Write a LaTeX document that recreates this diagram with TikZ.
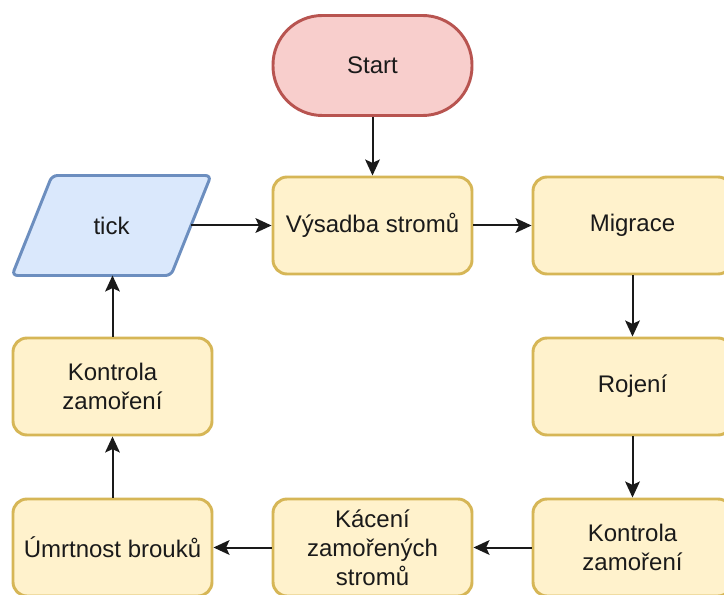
\documentclass[tikz,border=0pt]{standalone}
\usepackage{fontspec}
\setmainfont{Liberation Sans}
\usetikzlibrary{arrows.meta}
\definecolor{yfill}{HTML}{FFF2CC}
\definecolor{ydraw}{HTML}{D6B656}
\definecolor{rfill}{HTML}{F8CECC}
\definecolor{rdraw}{HTML}{B85450}
\definecolor{bfill}{HTML}{DAE8FC}
\definecolor{bdraw}{HTML}{6C8EBF}
\definecolor{txt}{HTML}{1A1A1A}
\tikzset{
  x=0.75pt, y=-0.75pt,
  base/.style={inner sep=0pt, line width=2.2pt, text=txt, align=center,
    font=\fontsize{18}{21.6}\selectfont},
  proc/.style={base, draw=ydraw, fill=yfill, rectangle, rounded corners=10.5pt,
    minimum width=149.25pt, minimum height=72.75pt},
  term/.style={base, draw=rdraw, fill=rfill, rectangle, rounded corners=37pt,
    minimum width=149.25pt, minimum height=75pt},
  iotext/.style={base, rectangle, minimum width=147pt, minimum height=72.75pt},
  ioshape/.style={line width=2.2pt, draw=bdraw, fill=bfill, rounded corners=4pt},
  conn/.style={line width=1.5pt, draw=txt, -{Stealth[length=12pt,width=11pt,inset=2.5pt]}}
}
\begin{document}
\begin{tikzpicture}
\path[use as bounding box, fill=white] (0,0) rectangle (724,595);
\clip (0,0) rectangle (724,595);
\node[iotext] (tick) at (111.5,225.5) {};
\draw[ioshape] ([xshift=30pt]tick.north west) -- (tick.north east)
  -- ([xshift=-30pt]tick.south east) -- (tick.south west) -- cycle;
\node[iotext] at (tick) {tick};
\coordinate (tickR) at ([xshift=-15pt]tick.east);
\node[term] (start) at (372.5,65.5) {Start};
\node[proc] (vys) at (372.5,225.5) {Výsadba stromů};
\node[proc] (mig) at (632.5,225.5) {Migrace};
\node[proc] (roj) at (632.5,386.5) {Rojení};
\node[proc] (kon2) at (632.5,547.5) {Kontrola\\zamoření};
\node[proc] (kac) at (372.5,547.5) {Kácení\\zamořených\\stromů};
\node[proc] (umr) at (112.5,547.5) {Úmrtnost brouků};
\node[proc] (kon1) at (112.5,386.5) {Kontrola\\zamoření};
\draw[conn] (start) -- (vys);
\draw[conn] (tickR) -- (vys);
\draw[conn] (vys) -- (mig);
\draw[conn] (mig) -- (roj);
\draw[conn] (roj) -- (kon2);
\draw[conn] (kon2) -- (kac);
\draw[conn] (kac) -- (umr);
\draw[conn] (umr) -- (kon1);
\draw[conn] (kon1.north) -- (kon1.north |- tick.south);
\end{tikzpicture}
\end{document}
